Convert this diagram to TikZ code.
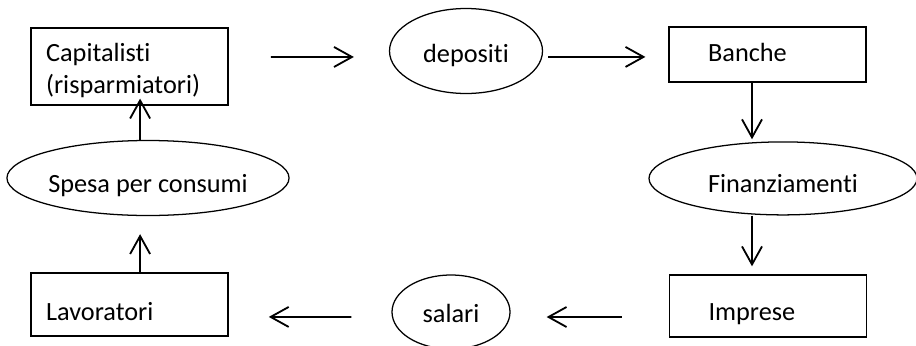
\documentclass[tikz,border=0pt]{standalone}
\usepackage{fontspec}
\setmainfont{Carlito}[Ligatures={NoCommon,NoContextual}]
\usetikzlibrary{shapes.geometric,arrows.meta}

\tikzset{
    box/.style={draw, line width=1pt, rectangle, align=left,
        text width=4.175cm, inner xsep=0.375cm, text depth=0.15cm},
    oval/.style={draw, line width=0.9pt, ellipse, inner sep=0pt, text depth=0.15cm},
    arr/.style={line width=1.3pt, -{Straight Barb[length=0.45cm,width=0.5cm,line width=1.3pt]}}
}

\begin{document}
\begin{tikzpicture}[font=\fontsize{18.7pt}{22.5pt}\selectfont]

    % Fix the frame of the picture
    \useasboundingbox (0,0) rectangle (22.9,-8.625);

    % Boxes for the actors
    \node[box, minimum height=1.925cm, text height=0.5cm, text depth=0.725cm] (cap) at (3.24,-1.66) {Capitalisti\\(risparmiatori)};
    \node[box, minimum height=1.375cm, text height=0.525cm, inner xsep=0.975cm, text width=2.975cm] (banche) at (19.19,-1.36) {Banche};
    \node[box, minimum height=1.55cm, text height=0.85cm, inner xsep=0.975cm, text width=2.975cm] (imprese) at (19.2,-7.65) {Imprese};
    \node[box, minimum height=1.575cm, text height=0.975cm] (lav) at (3.24,-7.61) {Lavoratori};

    % Ellipses for the flows
    \node[oval, minimum width=3.825cm, minimum height=2.125cm, text height=0.7cm] (dep) at (11.65,-1.275) {depositi};
    \node[oval, minimum width=6.7cm, minimum height=1.825cm, text height=0.85cm] (fin) at (19.575,-4.46) {Finanziamenti};
    \node[oval, minimum width=2.95cm, minimum height=1.85cm, text height=0.65cm] (sal) at (11.275,-7.8) {salari};
    \node[oval, minimum width=6.925cm, minimum height=1.875cm, text height=0.85cm] (spesa) at (3.7,-4.45) {Spesa per consumi};

    % Top row, left to right
    \draw[arr, shorten <=1.05cm, shorten >=0.875cm] ([yshift=0.2375cm]cap.east) -- ([yshift=-0.15cm]dep.west);
    \draw[arr, shorten <=0.125cm, shorten >=0.575cm] ([yshift=-0.15cm]dep.east) -- ([yshift=-0.0625cm]banche.west);

    % Right column, downwards
    \draw[arr, shorten >=0.05cm] ([xshift=-0.39cm]banche.south) -- ([xshift=-0.39cm]banche.south |- fin.north);
    \draw[arr, shorten >=0.2cm] ([xshift=-0.4cm]imprese.north |- fin.south) -- ([xshift=-0.4cm]imprese.north);

    % Bottom row, right to left
    \draw[arr, shorten <=1.175cm, shorten >=0.9cm] ([yshift=-0.275cm]imprese.west) -- ([yshift=-0.125cm]sal.east);
    \draw[arr, shorten <=1.0cm, shorten >=1.0cm] ([yshift=-0.125cm]sal.west) -- ([yshift=-0.3125cm]lav.east);

    % Left column, upwards
    \draw[arr, shorten >=0.45cm] ([xshift=0.2625cm]lav.north) -- ([xshift=0.2625cm]lav.north |- spesa.south);
    \draw[arr, shorten >=-0.175cm] ([xshift=0.2625cm]cap.south |- spesa.north) -- ([xshift=0.2625cm]cap.south);

\end{tikzpicture}
\end{document}
